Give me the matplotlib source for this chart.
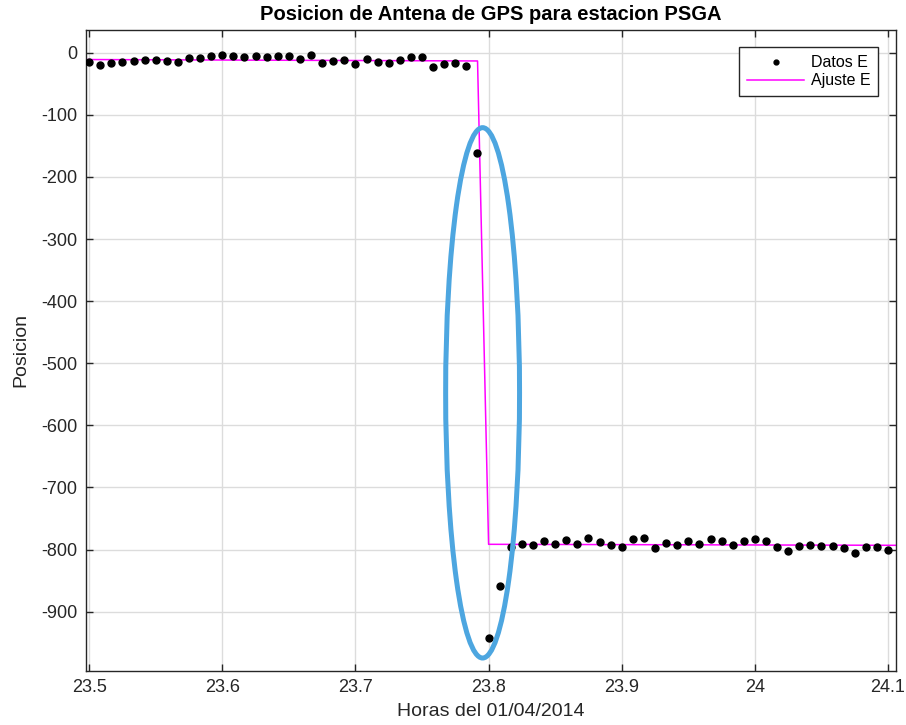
import numpy as np
import matplotlib.pyplot as plt
from matplotlib.patches import Ellipse

plt.rcParams['font.family'] = ['Liberation Sans', 'DejaVu Sans']
plt.rcParams['axes.unicode_minus'] = False

# muestras cada 30 segundos desde las 23.5 h
hora_inicio = 23.5
paso_seg = 30
pos_e = [-14.2, -19.7, -16.5, -14.2, -12.6, -12.1, -12.1, -12.6, -14.2, -8.4,
         -7.8, -5.2, -2.9, -5.2, -6.8, -6.1, -7.3, -5.2, -5.2, -9.4,
         -2.9, -15.9, -13.3, -12.1, -18.1, -9.4, -14.2, -15.9, -11.7, -6.8,
         -6.8, -23.0, -18.6, -16.5, -20.7, -162.0, -942.6, -858.4, -796.4, -791.6,
         -792.6, -786.1, -790.5, -785.1, -790.5, -780.7, -788.3, -792.6, -796.4, -783.5,
         -780.7, -797.4, -789.3, -792.6, -786.1, -791.6, -783.5, -786.1, -792.1, -786.1,
         -783.5, -786.1, -796.4, -801.8, -794.2, -792.6, -793.7, -793.7, -798.0, -805.5,
         -796.4, -796.4, -801.3]
horas = hora_inicio + np.arange(len(pos_e)) * paso_seg / 3600.0

# ajuste con salto
ajuste_t = [23.4977, 23.7917, 23.8, 24.106]
ajuste_e = [-11.0, -13.3, -791.6, -793.2]

# marca del salto
elipse_centro = (23.7955, -547.7)
elipse_ancho = 0.0555
elipse_alto = 854

fig = plt.figure(figsize=(9.06, 7.25), dpi=100)
ax = fig.add_axes([0.095, 0.075, 0.894, 0.884])

ax.plot(horas, pos_e, 'o', color='black', ms=5, label='Datos E', zorder=3)
ax.plot(ajuste_t, ajuste_e, '-', color='magenta', lw=1.1, label='Ajuste E', zorder=2)
ax.add_patch(Ellipse(elipse_centro, elipse_ancho, elipse_alto, fill=False,
                     edgecolor='#4da6e0', lw=3.6, zorder=4))

ax.set_xlim(23.4977, 24.106)
ax.set_ylim(-995, 37)
ax.set_xticks([23.5, 23.6, 23.7, 23.8, 23.9, 24.0, 24.1])
ax.set_xticklabels(['23.5', '23.6', '23.7', '23.8', '23.9', '24', '24.1'])
ax.set_yticks(np.arange(-900, 1, 100))
ax.grid(True, color='#dcdcdc', lw=1)
ax.set_axisbelow(True)
ax.tick_params(direction='in', length=5, width=1, top=True, right=True,
               labelsize=13, colors='#262626', pad=6)
for s in ax.spines.values():
    s.set_color('#262626')
    s.set_linewidth(1)

ax.set_title('Posicion de Antena de GPS para estacion PSGA', fontsize=14.5,
             fontweight='bold', pad=7)
ax.set_xlabel('Horas del 01/04/2014', fontsize=14, color='#262626', labelpad=5)
ax.set_ylabel('Posicion', fontsize=14, color='#262626', labelpad=9)

leg = ax.legend(loc='upper right', fontsize=11.5, markerscale=0.7, fancybox=False,
                framealpha=1, edgecolor='#262626', borderaxespad=1.1,
                handlelength=3.6, handletextpad=0.4, borderpad=0.5,
                labelspacing=0.2)
leg.get_frame().set_linewidth(1)

fig.savefig('out.png', dpi=100)
